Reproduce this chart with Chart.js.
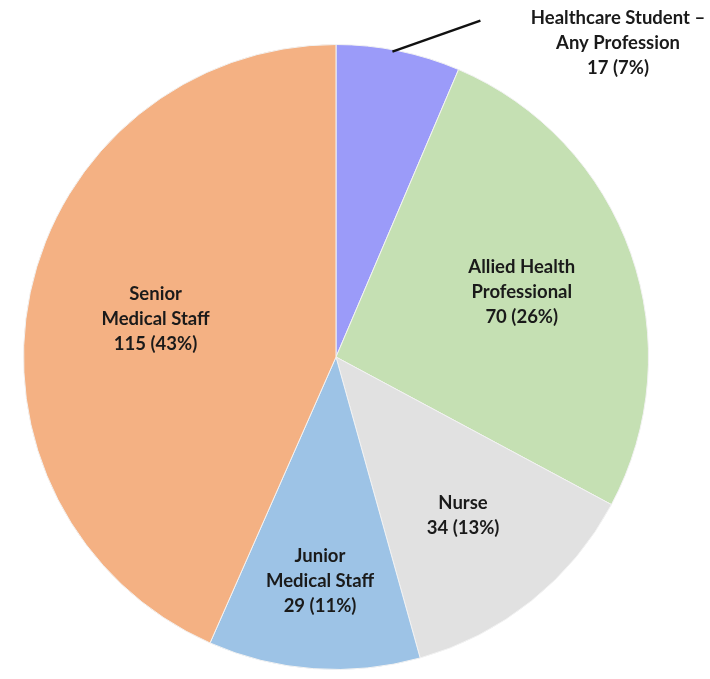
<!DOCTYPE html>
<html>
<head>
<meta charset="utf-8">
<script src="https://cdn.jsdelivr.net/npm/chart.js@4"></script>
<style>
  html, body { margin: 0; padding: 0; background: #fff; }
  #wrap { width: 710px; height: 679px; }
</style>
</head>
<body>
<div id="wrap"><canvas id="pieChart" width="710" height="679"></canvas></div>
<script>
const categories = [
  ['Healthcare Student \u2013', 'Any Profession'],
  ['Allied Health', 'Professional'],
  ['Nurse'],
  ['Junior', 'Medical Staff'],
  ['Senior', 'Medical Staff']
];
const counts = [17, 70, 34, 29, 115];
const percents = [7, 26, 13, 11, 43];
const colors = ['#9b9bf9', '#c5e0b3', '#e1e1e1', '#9dc3e6', '#f4b183'];

// where each label sits: fraction of radius along the slice's middle angle
const labelRadius = [null, 0.63, 0.65, 0.72, 0.59];

const labelPlugin = {
  id: 'sliceLabels',
  afterDatasetsDraw(chart) {
    const c = chart.ctx;
    const arcs = chart.getDatasetMeta(0).data;
    c.save();
    c.font = 'bold 18.5px Lato';
    c.fillStyle = '#1a1a1a';
    c.textAlign = 'center';
    c.textBaseline = 'middle';
    arcs.forEach((arc, i) => {
      const lines = categories[i].concat([counts[i] + ' (' + percents[i] + '%)']);
      const mid = (arc.startAngle + arc.endAngle) / 2;
      let x, y;
      if (labelRadius[i] === null) {
        // outside label with leader line
        const ex = arc.x + Math.cos(mid - 0.02) * arc.outerRadius;
        const ey = arc.y + Math.sin(mid - 0.02) * arc.outerRadius + 2;
        c.strokeStyle = '#111';
        c.lineWidth = 2.5;
        c.beginPath();
        c.moveTo(ex, ey);
        c.lineTo(ex + 88, ey - 31);
        c.stroke();
        x = 618;
        y = 43;
      } else {
        const r = arc.outerRadius * labelRadius[i];
        x = arc.x + Math.cos(mid) * r;
        y = arc.y + Math.sin(mid) * r;
      }
      const h = 25;
      lines.forEach((t, k) => {
        c.fillText(t, x, y + (k - (lines.length - 1) / 2) * h);
      });
    });
    c.restore();
  }
};

new Chart(document.getElementById('pieChart').getContext('2d'), {
  type: 'pie',
  data: {
    labels: categories.map(l => l.join(' ')),
    datasets: [{
      data: counts,
      backgroundColor: colors,
      borderColor: '#f2f2f2',
      borderWidth: 1
    }]
  },
  options: {
    responsive: false,
    animation: false,
    layout: { padding: { top: 44, bottom: 9, left: 20, right: 58 } },
    plugins: {
      legend: { display: false },
      tooltip: { enabled: false }
    }
  },
  plugins: [labelPlugin]
});
</script>
</body>
</html>
